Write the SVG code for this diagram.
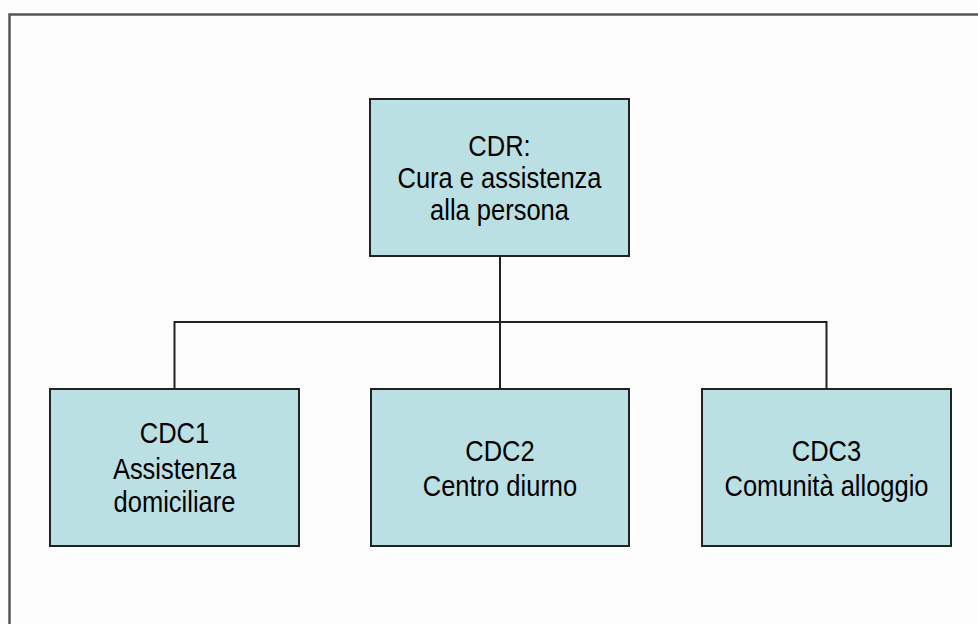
<svg xmlns="http://www.w3.org/2000/svg" width="978" height="624" viewBox="0 0 978 624">
<style>
.box{fill:#bbe0e3;stroke:#222;stroke-width:2}
.lbl{font-family:"Liberation Sans",Arial,sans-serif;font-size:25.5px;fill:#000;text-anchor:middle}
.con{fill:none;stroke:#222;stroke-width:2}
</style>
<rect x="0" y="0" width="978" height="624" fill="#fdfdfd"/>
<path d="M9.5 640 V14.5 H990" fill="none" stroke="#555" stroke-width="2.5"/>
<g id="connectors">
<path class="con" d="M500 256 V322"/>
<path class="con" d="M174.5 389 V322 H826.5 V389"/>
<path class="con" d="M500 322 V389"/>
</g>
<g id="cdr">
<rect class="box" x="370" y="99" width="259" height="157"/>
<text class="lbl" transform="translate(499.5 156) scale(1 1.15)">CDR:</text>
<text class="lbl" transform="translate(499.5 188) scale(1 1.15)">Cura e assistenza</text>
<text class="lbl" transform="translate(499.5 220) scale(1 1.15)">alla persona</text>
</g>
<g id="cdc1">
<rect class="box" x="50" y="389" width="249" height="157"/>
<text class="lbl" transform="translate(174.5 443) scale(1 1.15)">CDC1</text>
<text class="lbl" transform="translate(174.5 479) scale(1 1.15)">Assistenza</text>
<text class="lbl" transform="translate(174.5 512) scale(1 1.15)">domiciliare</text>
</g>
<g id="cdc2">
<rect class="box" x="371" y="389" width="258" height="157"/>
<text class="lbl" transform="translate(500 461) scale(1 1.15)">CDC2</text>
<text class="lbl" transform="translate(500 496) scale(1 1.15)">Centro diurno</text>
</g>
<g id="cdc3">
<rect class="box" x="702" y="389" width="249" height="157"/>
<text class="lbl" transform="translate(826.5 461) scale(1 1.15)">CDC3</text>
<text class="lbl" transform="translate(826.5 496) scale(1 1.15)">Comunità alloggio</text>
</g>
</svg>
